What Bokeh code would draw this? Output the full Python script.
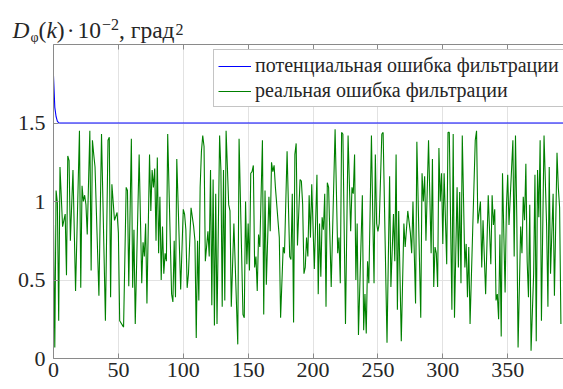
from bokeh.plotting import figure
from bokeh.layouts import column
from bokeh.models import Range1d, LinearAxis, FixedTicker, Legend, LegendItem, Div
from bokeh.embed import file_html
from bokeh.resources import INLINE

# potential filtering error (blue)
pot_k = [0, 1, 2, 3, 4, 5, 400]
pot_v = [1.80, 1.60, 1.54, 1.51, 1.502, 1.50, 1.50]

real_k = [
    0, 1, 2, 3, 4, 5, 7, 8, 9, 10, 11, 12, 13, 15, 17, 20, 21, 22, 23, 24, 25, 26, 28, 29, 30, 31, 32, 35, 37, 39, 40, 42, 43, 44, 45, 47, 49, 50, 51, 54, 56, 57, 58, 60, 61, 62, 63,
    66, 68, 69, 70, 71, 72, 74, 75, 76, 77, 78, 79, 80, 81, 82, 83, 84, 85, 86, 87, 88, 91, 92, 93, 94, 95, 98, 100, 101, 102, 103, 104, 106, 108, 109, 110, 111, 112, 113, 114, 115, 116, 117, 119, 120, 121, 122, 123, 124, 125, 126, 128, 129, 130, 131,
    132, 133, 135, 136, 137, 139, 142, 143, 146, 147, 148, 149, 150, 151, 152, 153, 154, 155, 156, 157, 158, 159, 161, 162, 163, 164, 166, 167, 168, 169, 170, 171, 174, 175, 177, 178, 180, 182, 183, 184, 185, 186, 187, 188, 190, 191, 192, 193, 194, 195, 196, 197,
    198, 199, 201, 203, 204, 205, 206, 207, 208, 209, 210, 211, 212, 214, 217, 219, 220, 221, 222, 223, 225, 227, 229, 230, 231, 232, 233, 234, 235, 238, 239, 240, 241, 242, 243, 245, 246, 247, 248, 249, 250, 251, 253, 254, 257, 259, 260, 262, 263, 264,
    265, 266, 268, 270, 271, 273, 275, 276, 277, 279, 280, 281, 283, 284, 285, 286, 287, 289, 291, 292, 293, 294, 295, 296, 297, 298, 299, 300, 301, 303, 304, 305, 307, 308, 309, 311, 312, 313, 314, 315, 317, 318, 319, 320, 321, 323, 325, 326, 327, 329, 330, 331,
    333, 335, 337, 338, 339, 340, 341, 342, 343, 344, 345, 346, 348, 349, 350, 351, 354, 355, 356, 357, 358, 360, 361, 362, 363, 364, 365, 366, 367, 368, 370, 371, 372, 373, 374, 375, 376, 378, 380, 381, 382, 383, 385, 386, 388, 389, 390, 391,
]
real_v = [
    0.85, 0.07, 1.07, 0.99, 0.24, 1.22, 0.84, 0.88, 0.92, 0.53, 1.29, 1.26, 0.75, 1.2, 0.43, 1.45, 0.45, 1.1, 1.0, 1.04, 0.98, 0.79, 1.45, 0.56, 1.39, 1.3, 1.22, 0.40, 1.43, 0.64, 0.24, 1.39, 1.41, 0.39, 1.11, 0.88, 0.93, 0.8, 0.24, 0.20, 1.09, 1.07, 0.46, 1.4, 0.45, 0.82, 0.22,
    1.30, 0.48, 0.74, 0.65, 0.86, 0.35, 1.30, 0.94, 1.2, 1.09, 1.21, 0.75, 1.28, 0.67, 1.03, 0.5, 0.84, 0.54, 0.67, 0.62, 1.43, 0.41, 0.36, 0.75, 0.39, 1.27, 0.44, 0.95, 0.92, 0.82, 0.45, 0.54, 0.96, 0.84, 0.75, 0.13, 0.75, 0.37, 1.09, 1.32, 1.42, 1.35, 0.62, 0.81, 0.65, 1.2, 0.34, 1.14, 0.21, 1.05, 0.22, 1.42, 1.2, 0.33, 1.2,
    0.37, 1.45, 0.98, 0.94, 0.33, 0.86, 0.09, 1.40, 0.28, 0.26, 1.0, 0.6, 0.86, 0.56, 1.18, 1.19, 1.23, 0.58, 0.65, 0.43, 0.79, 0.71, 1.39, 0.28, 1.07, 0.47, 1.03, 0.81, 1.25, 1.19, 1.23, 1.09, 0.77, 0.26, 0.71, 0.67, 1.32, 0.65, 0.63, 1.05, 0.23, 1.3, 1.37, 0.72, 1.14, 1.13, 0.98, 0.54, 0.58, 0.77, 0.65, 1.04,
    0.77, 1.11, 0.57, 1.17, 0.41, 0.86, 0.52, 0.9, 0.82, 1.05, 0.33, 1.12, 1.09, 0.455, 1.46, 0.67, 0.77, 0.48, 1.44, 1.43, 0.22, 1.42, 0.81, 1.09, 1.05, 1.3, 0.5, 0.86, 0.15, 1.04, 0.18, 0.41, 0.16, 0.62, 0.48, 1.42, 0.92, 0.48, 1.3, 0.86, 0.81, 0.86, 1.43, 1.44, 0.1, 1.16, 0.455, 0.92, 0.62, 1.3,
    0.31, 0.94, 0.11, 0.86, 0.71, 0.94, 0.8, 0.67, 1.0, 0.35, 1.38, 1.0, 0.26, 1.18, 1.0, 1.16, 0.75, 1.39, 0.67, 1.27, 0.455, 0.71, 0.67, 0.455, 1.34, 1.0, 1.18, 0.73, 1.18, 0.6, 1.44, 1.44, 0.31, 1.43, 0.26, 1.09, 0.58, 1.06, 0.48, 1.42, 0.58, 0.73, 0.39, 0.71, 0.22, 0.81, 1.39, 1.45, 0.86, 1.0, 0.58, 0.88,
    0.41, 1.04, 0.6, 1.04, 0.85, 0.95, 0.37, 0.41, 0.25, 0.79, 0.14, 1.18, 0.42, 0.96, 1.17, 0.85, 1.39, 0.65, 1.42, 0.9, 0.07, 0.84, 0.67, 1.03, 0.88, 1.24, 0.62, 0.39, 0.98, 0.05, 0.54, 1.17, 0.11, 1.2, 0.9, 1.39, 0.24, 1.42, 0.84, 0.33, 1.22, 0.54, 1.05, 0.4, 1.31, 1.09, 0.96, 0.22,
]
assert len(real_k) == len(real_v), (len(real_k), len(real_v))

x_ticks = [0, 50, 100, 150, 200, 250, 300, 350]
y_ticks = [0, 0.5, 1, 1.5]
y_tick_labels = ["0", "0.5", "1", "1.5"]
legend_labels = ["потенциальная ошибка фильтрации", "реальная ошибка фильтрации"]

FONT = "Liberation Serif"
AXIS_COLOR = "#8a8a8a"
TEXT_COLOR = "#262626"
CAP_H = 44

# ---- caption above the axes: D_φ(k)·10^−2, град^2 ----
cap_html = (
    '<div style="position:relative;width:563px;height:44px;overflow:hidden;background:white;">'
    '<div style="position:absolute;left:12.5px;top:18px;white-space:nowrap;'
    "font-family:'Liberation Serif',serif;font-size:23.5px;line-height:25px;color:#262626;\">"
    '<i>D</i>'
    '<span style="font-size:14px;position:relative;top:4px;line-height:0;margin-left:1px;">φ</span>'
    '(<i>k</i>)'
    '<span style="margin:0 3px 0 2px;">·</span>10'
    '<span style="font-size:16px;position:relative;top:-8px;line-height:0;margin-left:1px;">−2</span>'
    ', град'
    '<span style="font-size:16px;position:relative;top:-3px;line-height:0;margin-left:1px;">2</span>'
    '</div></div>'
)
cap = Div(text=cap_html, width=563, height=CAP_H, margin=(0, 0, 0, 0))

# ---- main axes ----
p = figure(width=563, height=389 - CAP_H, output_backend="svg", toolbar_location=None,
           x_range=Range1d(0, 393), y_range=Range1d(0, 2.0),
           min_border_left=53, min_border_right=0, min_border_top=0, min_border_bottom=31)
p.outline_line_color = None
p.background_fill_color = "white"
p.border_fill_color = "white"

r_pot = p.line(pot_k, pot_v, line_color="#0000ff", line_width=1.1)
r_real = p.line(real_k, real_v, line_color="#008000", line_width=1.1)

for ax in (p.xaxis[0], p.yaxis[0]):
    ax.axis_line_color = AXIS_COLOR
    ax.major_tick_line_color = AXIS_COLOR
    ax.major_tick_in = 5
    ax.major_tick_out = 0
    ax.minor_tick_line_color = None
    ax.major_label_text_font = FONT
    ax.major_label_text_font_size = "22px"
    ax.major_label_text_color = TEXT_COLOR

p.xaxis[0].ticker = FixedTicker(ticks=x_ticks)
p.xaxis[0].major_label_standoff = 4
p.yaxis[0].ticker = FixedTicker(ticks=y_ticks)
p.yaxis[0].major_label_overrides = {t: s for t, s in zip(y_ticks, y_tick_labels)}
p.yaxis[0].major_label_standoff = 8

top = LinearAxis(ticker=FixedTicker(ticks=x_ticks), axis_line_color=AXIS_COLOR,
                 major_tick_line_color=AXIS_COLOR, major_tick_in=5, major_tick_out=0,
                 minor_tick_line_color=None,
                 major_label_overrides={t: "" for t in x_ticks},
                 major_label_standoff=0)
p.add_layout(top, "above")

p.xgrid.ticker = FixedTicker(ticks=x_ticks)
p.ygrid.ticker = FixedTicker(ticks=y_ticks)
p.xgrid.grid_line_color = "#e2e2e2"
p.ygrid.grid_line_color = "#e2e2e2"

legend = Legend(items=[LegendItem(label=legend_labels[0], renderers=[r_pot]),
                       LegendItem(label=legend_labels[1], renderers=[r_real])],
                location=(160, 251), margin=0, padding=4, spacing=2,
                glyph_width=33, glyph_height=22, label_height=22, label_standoff=4,
                label_text_font=FONT, label_text_font_size="20px", label_text_color=TEXT_COLOR,
                border_line_color=AXIS_COLOR, border_line_width=1,
                background_fill_color="white", background_fill_alpha=1.0)
p.add_layout(legend)

page = column(cap, p, spacing=0)
open("out.html", "w").write(file_html(page, INLINE))
